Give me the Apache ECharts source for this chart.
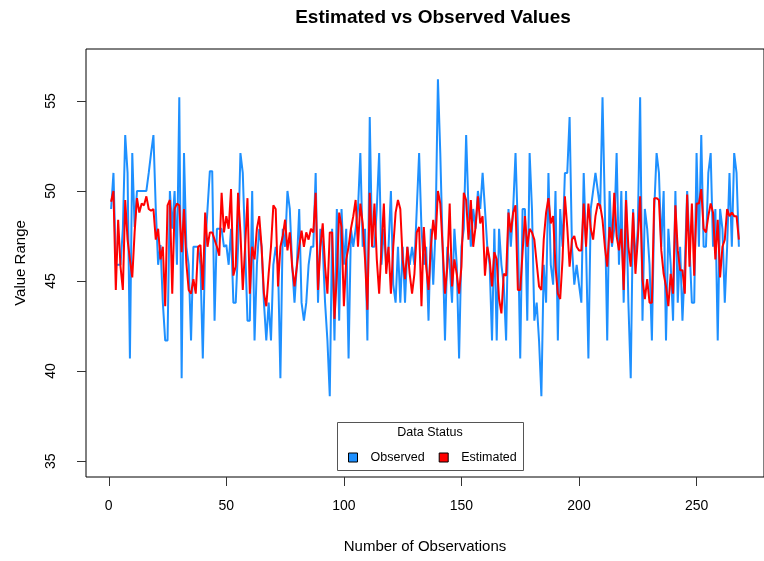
<!DOCTYPE html>
<html>
<head>
<meta charset="utf-8">
<script src="https://cdn.jsdelivr.net/npm/echarts@6/dist/echarts.min.js"></script>
<style>
  html, body { margin: 0; padding: 0; background: #fff; }
  #main { width: 764px; height: 561px; }
</style>
</head>
<body>
<div id="main"></div>
<script>
var observed = [
  49.0, 51.0, 45.9, 45.9, 45.9, 47.9, 53.1, 51.0, 40.7, 52.1, 48.0, 50.0, 50.0, 50.0, 50.0, 50.0, 51.0, 52.1, 53.1, 49.0,
  45.9, 47.0, 43.8, 41.7, 41.7, 50.0, 47.9, 50.0, 45.9, 55.2, 39.6, 52.1, 46.9, 45.9, 41.7, 46.9, 46.9, 46.9, 45.9, 40.7,
  46.9, 49.0,
  51.1, 51.1, 42.8, 47.9, 47.9, 47.9, 46.9, 47.0, 45.9, 47.9, 43.8, 43.8, 46.9, 52.1, 51.0, 46.9, 42.8, 42.8, 50.0, 41.7,
  45.9, 47.9, 46.9, 43.8, 41.7, 43.8, 41.7, 45.9, 46.9, 45.9, 39.6, 47.9, 46.9, 50.0, 49.0, 45.9, 43.8, 45.9, 49.0, 43.8,
  42.8, 43.8, 45.9, 46.9, 46.9, 51.0,
  43.8, 47.9, 46.9, 43.8, 41.7, 38.6, 47.9, 41.7, 49.0, 42.8, 49.0, 45.9, 47.9, 40.7, 47.9, 46.9, 47.9, 49.0, 52.1, 46.9,
  47.9, 41.7, 54.1, 46.9, 46.9, 49.0, 52.1, 45.9, 47.9, 45.9, 46.9, 50.0, 44.8, 43.8, 46.9, 43.8, 46.9, 43.8, 46.9, 45.9,
  46.9, 45.9, 49.0, 52.1, 47.9, 45.9,
  46.9, 42.8, 47.9, 44.8, 47.9, 56.2, 52.1, 46.9, 41.7, 46.9, 45.9, 43.8, 47.9, 45.9, 40.7, 46.9, 47.9, 53.1, 49.0, 46.9,
  49.0, 47.9, 50.0, 49.0, 51.0, 49.0, 46.9, 45.9, 41.7, 47.9, 41.7, 47.9, 45.9, 44.8, 41.7, 49.0, 46.9, 49.0, 52.1, 47.9,
  40.7, 49.0, 49.0, 42.8, 52.1, 49.0,
  42.8, 43.8, 41.7, 38.6, 45.9, 43.8, 51.0, 45.9, 44.8, 50.0, 41.7, 49.0, 46.9, 51.0, 51.0, 54.1, 46.9, 44.8, 45.9, 44.8,
  43.8, 51.0, 46.9, 40.7, 49.0, 50.0, 51.0, 50.0, 49.0, 55.2, 49.0, 41.7, 50.0, 46.9, 47.9, 52.1, 45.9, 50.0, 43.8, 50.0,
  43.8, 39.6, 49.0, 45.9, 47.9, 55.2,
  42.8, 49.0, 47.9, 45.9, 41.7, 49.0, 52.1, 51.0, 46.9, 50.0, 41.7, 47.9, 45.9, 42.8, 50.0, 43.8, 46.9, 42.8, 45.9, 50.0,
  46.9, 43.8, 43.8, 52.1, 46.9, 53.1, 46.9, 46.9, 51.0, 52.1, 46.9, 49.0, 41.7, 49.0, 47.9, 43.8, 46.9, 51.0, 46.9, 52.1,
  51.0, 46.9
];

// estimated values
var estimated = [
  49.4, 50.0, 44.5, 48.4, 45.8, 44.5, 49.5, 47.3, 46.2, 45.2, 47.7, 49.6, 48.8, 49.3, 49.2, 49.7, 49.0, 48.9, 49.0, 47.3,
  47.9, 46.2, 46.9, 43.6, 49.2, 49.5, 44.3, 49.0, 49.3, 49.2, 46.6, 49.0, 46.0, 44.5, 44.3, 45.1, 44.3, 46.9, 47.0, 44.5,
  48.8, 46.9,
  47.7, 47.7, 47.3, 46.9, 46.4, 49.9, 47.7, 48.6, 47.9, 50.1, 45.3, 45.8, 49.9, 47.7, 44.5, 46.9, 49.6, 44.3, 46.9, 46.2,
  47.9, 48.6, 46.9, 44.3, 43.6, 45.4, 46.9, 49.2, 49.0, 44.7, 46.9, 47.5, 48.4, 46.7, 47.7, 45.8, 44.7, 45.8, 46.9, 47.8,
  46.9, 47.7, 47.3, 47.9, 47.7, 49.9,
  44.5, 46.9, 48.2, 45.8, 44.3, 47.7, 47.7, 42.9, 45.3, 48.8, 48.0, 43.6, 46.2, 46.9, 47.9, 48.6, 49.5, 46.9, 49.3, 48.2,
  46.2, 43.4, 49.9, 46.9, 49.3, 46.2, 44.3, 46.9, 49.3, 45.4, 46.9, 44.3, 46.9, 48.8, 49.5, 49.0, 46.2, 45.1, 46.9, 45.4,
  44.3, 45.4, 47.7, 48.0, 43.6, 48.0,
  45.8, 44.5, 46.9, 48.4, 47.3, 50.0, 49.3, 46.9, 44.3, 45.8, 49.3, 44.7, 46.2, 45.4, 44.3, 45.8, 49.9, 49.5, 47.3, 49.5,
  46.9, 48.0, 49.7, 48.2, 48.6, 45.3, 46.9, 46.2, 44.7, 46.6, 46.2, 44.0, 43.2, 45.4, 45.3, 48.8, 47.7, 48.8, 49.2, 44.5,
  44.5, 46.6, 48.6, 46.9, 47.9, 47.7,
  47.3, 46.0, 44.7, 44.5, 47.3, 48.8, 49.6, 48.2, 48.6, 45.8, 44.3, 44.0, 46.2, 49.7, 48.0, 45.8, 47.3, 47.5, 46.9, 46.7,
  46.7, 49.3, 46.9, 49.3, 47.9, 47.3, 48.6, 49.3, 49.2, 48.4, 46.9, 45.8, 48.0, 47.1, 49.9, 47.5, 46.7, 47.9, 44.5, 49.5,
  46.9, 45.8, 48.8, 45.4, 47.3, 49.7,
  45.1, 44.0, 45.1, 43.8, 43.8, 49.6, 49.6, 49.5, 46.7, 45.4, 44.7, 43.6, 45.4, 44.3, 49.2, 46.7, 45.6, 45.6, 44.3, 49.8,
  45.8, 49.3, 45.3, 49.3, 49.3, 50.1, 47.9, 47.7, 48.6, 49.3, 48.8, 46.2, 48.4, 45.2, 46.9, 47.3, 49.0, 48.6, 48.8, 48.6,
  48.6, 47.3
];

var xTicks = [0, 50, 100, 150, 200, 250];
var yTicks = [35, 40, 45, 50, 55];

var chart = echarts.init(document.getElementById('main'));

function pairs(arr) {
  return arr.map(function (v, i) { return [i + 1, v]; });
}

chart.setOption({
  animation: false,
  backgroundColor: '#fff',
  textStyle: { fontFamily: 'Liberation Sans, Arial, sans-serif' },
  title: {
    text: 'Estimated vs Observed Values',
    left: 428,
    top: 3,
    textAlign: 'center',
    textStyle: { fontSize: 19, fontWeight: 'bold', color: '#000' }
  },
  grid: {
    left: 86,
    top: 49,
    right: -10,
    bottom: 84,
    show: true,
    borderColor: '#000',
    borderWidth: 1
  },
  xAxis: {
    type: 'value',
    min: -9.68,
    max: 278.68,
    name: 'Number of Observations',
    nameLocation: 'middle',
    nameGap: 62,
    nameTextStyle: { fontSize: 15, color: '#000' },
    axisLine: { show: false, onZero: false },
    splitLine: { show: false },
    axisTick: { show: true, length: 9, lineStyle: { color: '#333' }, customValues: xTicks },
    axisLabel: { fontSize: 14, color: '#000', margin: 22, customValues: xTicks }
  },
  yAxis: {
    type: 'value',
    min: 34.12,
    max: 57.88,
    name: 'Value Range',
    nameLocation: 'middle',
    nameGap: 58,
    nameRotate: 90,
    nameTextStyle: { fontSize: 15, color: '#000' },
    axisLine: { show: false, onZero: false },
    splitLine: { show: false },
    axisTick: { show: true, length: 9, lineStyle: { color: '#333' }, customValues: yTicks },
    axisLabel: { fontSize: 14, color: '#000', margin: 28, rotate: 90, customValues: yTicks }
  },
  legend: {
    left: 343,
    top: 446,
    z: 10,
    icon: 'rect',
    itemWidth: 9,
    itemHeight: 9,
    itemGap: 14,
    data: ['Observed', 'Estimated'],
    itemStyle: { borderColor: '#000', borderWidth: 1 },
    textStyle: { fontSize: 12.5, color: '#000', padding: [0, 0, 0, 8] }
  },
  graphic: [
    {
      type: 'rect',
      shape: { x: 337.5, y: 422.5, width: 186, height: 48 },
      style: { fill: '#fff', stroke: '#555', lineWidth: 1 },
      z: 5
    },
    {
      type: 'text',
      x: 430,
      y: 433,
      style: { text: 'Data Status', fontSize: 12.5, fill: '#000', align: 'center', verticalAlign: 'middle',
               fontFamily: 'Liberation Sans, Arial, sans-serif' },
      z: 6
    }
  ],
  series: [
    {
      name: 'Observed',
      type: 'line',
      data: pairs(observed),
      showSymbol: false,
      color: '#1E90FF',
      lineStyle: { width: 2, color: '#1E90FF' },
      z: 2
    },
    {
      name: 'Estimated',
      type: 'line',
      data: pairs(estimated),
      showSymbol: false,
      color: '#FF0000',
      lineStyle: { width: 2, color: '#FF0000' },
      z: 3
    }
  ]
});
</script>
</body>
</html>
